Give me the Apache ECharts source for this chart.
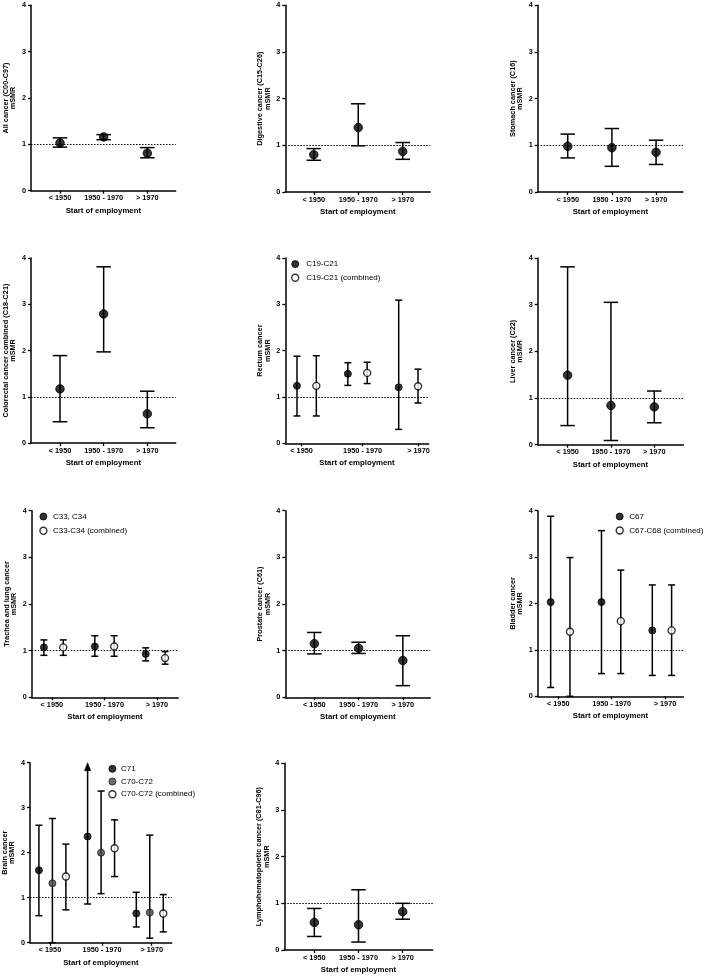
<!DOCTYPE html>
<html>
<head>
<meta charset="utf-8">
<script src="https://cdn.jsdelivr.net/npm/echarts@6/dist/echarts.min.js"></script>
<style>
html,body{margin:0;padding:0;background:#fff;}
#chart{width:708px;height:978px;}
</style>
</head>
<body>
<div id="chart"></div>
<script>
// ---------- DATA (mSMR estimate, lower CI, upper CI) ----------
const categories = ['< 1950', '1950 - 1970', '> 1970'];
const yTickValues = [0, 1, 2, 3, 4];

const allCancer   = [[1.03, 0.94, 1.14], [1.16, 1.10, 1.21], [0.81, 0.71, 0.93]];
const digestive   = [[0.80, 0.68, 0.93], [1.38, 0.99, 1.89], [0.87, 0.70, 1.06]];
const stomach     = [[0.98, 0.73, 1.24], [0.95, 0.55, 1.36], [0.85, 0.59, 1.11]];
const colorectal  = [[1.17, 0.46, 1.89], [2.79, 1.97, 3.81], [0.63, 0.33, 1.12]];
const rectumC19   = [[1.24, 0.59, 1.88], [1.50, 1.25, 1.74], [1.21, 0.30, 3.09]];
const rectumComb  = [[1.24, 0.59, 1.89], [1.52, 1.29, 1.75], [1.23, 0.87, 1.60]];
const liver       = [[1.49, 0.41, 3.81], [0.84, 0.09, 3.05], [0.81, 0.47, 1.15]];
const lungC33     = [[1.07, 0.90, 1.23], [1.09, 0.88, 1.32], [0.93, 0.78, 1.06]];
const lungComb    = [[1.07, 0.90, 1.23], [1.09, 0.88, 1.32], [0.84, 0.71, 0.98]];
const prostate    = [[1.15, 0.93, 1.39], [1.05, 0.94, 1.18], [0.79, 0.25, 1.32]];
const bladderC67  = [[2.03, 0.19, 3.88], [2.03, 0.49, 3.57], [1.42, 0.45, 2.40]];
const bladderComb = [[1.39, 0.00, 2.99], [1.62, 0.49, 2.72], [1.42, 0.45, 2.40]];
const brainC71    = [[1.61, 0.60, 2.61], [2.36, 0.86, 4.00], [0.65, 0.35, 1.12]];
const brainC70    = [[1.32, 0.00, 2.76], [2.00, 1.09, 3.37], [0.67, 0.10, 2.39]];
const brainComb   = [[1.47, 0.73, 2.19], [2.10, 1.47, 2.73], [0.65, 0.24, 1.07]];
const lympho      = [[0.59, 0.29, 0.89], [0.54, 0.17, 1.29], [0.82, 0.66, 1.00]];
// upper limit beyond axis (drawn as arrow)
const brainC71Truncated = [0, 1, 0];
const noTrunc = [0, 0, 0];

// ---------- LAYOUT / STYLE ----------
const FONT = '"Liberation Sans", Arial, sans-serif';
const STYLE = {
  filled: { color: '#000000', borderColor: '#000000', borderWidth: 1 },
  gray:   { color: '#474747', borderColor: '#1a1a1a', borderWidth: 1 },
  open:   { color: '#ffffff', borderColor: '#000000', borderWidth: 1.4 }
};

const panels = [
  { title: 'All cancer (C00-C97)', box: [31, 5.3, 144.7, 185.4], xr: [-0.664, 2.65],
    labels: [0, 1, 2], sub: [{ name: 'allC', data: allCancer, off: 0, st: 'filled' }] },
  { title: 'Digestive cancer (C15-C26)', box: [285.3, 5.3, 145, 186.7], xr: [-0.64, 2.62],
    labels: [0, 1, 2], sub: [{ name: 'dig', data: digestive, off: 0, st: 'filled' }] },
  { title: 'Stomach cancer (C16)', box: [537.7, 5.3, 145.3, 186.7], xr: [-0.68, 2.61],
    labels: [0, 1, 2], sub: [{ name: 'sto', data: stomach, off: 0, st: 'filled' }] },
  { title: 'Colorectal cancer combined (C18-C21)', box: [31, 258, 144.7, 185], xr: [-0.664, 2.65],
    labels: [0, 1, 2], sub: [{ name: 'col', data: colorectal, off: 0, st: 'filled' }] },
  { title: 'Rectum cancer', box: [285.3, 258, 143.4, 185.3], xr: [-0.42, 2.40],
    labels: [-0.1, 1.1, 2.2], multi: true,
    sub: [{ name: 'C19-C21', data: rectumC19, off: -0.19, st: 'filled' },
          { name: 'C19-C21 (combined)', data: rectumComb, off: 0.19, st: 'open' }],
    legend: { left: 291, top: 259.6, iw: 12, gap: 4.6 } },
  { title: 'Liver cancer (C22)', box: [537.7, 258, 145.6, 186.7], xr: [-0.69, 2.67],
    labels: [0, 1, 2], sub: [{ name: 'liv', data: liver, off: 0, st: 'filled' }] },
  { title: 'Trachea and lung cancer', box: [31.7, 510.7, 146.6, 186.6], xr: [-0.43, 2.45],
    labels: [-0.035, 1.0, 2.03], multi: true,
    sub: [{ name: 'C33, C34', data: lungC33, off: -0.19, st: 'filled' },
          { name: 'C33-C34 (combined)', data: lungComb, off: 0.19, st: 'open' }],
    legend: { left: 39.2, top: 512, iw: 9, gap: 5.3 } },
  { title: 'Prostate cancer (C61)', box: [285.3, 510.7, 145, 186.6], xr: [-0.656, 2.62],
    labels: [0, 1, 2], sub: [{ name: 'pro', data: prostate, off: 0, st: 'filled' }] },
  { title: 'Bladder cancer', box: [537.7, 510.7, 145.6, 185.6], xr: [-0.445, 2.42],
    labels: [-0.04, 1.01, 2.06], multi: true,
    sub: [{ name: 'C67', data: bladderC67, off: -0.19, st: 'filled' },
          { name: 'C67-C68 (combined)', data: bladderComb, off: 0.19, st: 'open' }],
    legend: { left: 615.5, top: 512, iw: 9, gap: 5 } },
  { title: 'Brain cancer', box: [30, 762.7, 141.7, 180], xr: [-0.46, 2.45],
    labels: [-0.05, 1.02, 2.04], multi: true,
    sub: [{ name: 'C71', data: brainC71, off: -0.277, st: 'filled', trunc: brainC71Truncated },
          { name: 'C70-C72', data: brainC70, off: 0, st: 'gray' },
          { name: 'C70-C72 (combined)', data: brainComb, off: 0.277, st: 'open' }],
    legend: { left: 108.2, top: 764.3, iw: 7, gap: 3.7 } },
  { title: 'Lymphohematopoietic cancer (C81-C96)', box: [284.3, 763.3, 148.4, 186.7], xr: [-0.68, 2.68],
    labels: [0, 1, 2], sub: [{ name: 'lym', data: lympho, off: 0, st: 'filled' }] }
];

function makeErrorRenderer(capW) {
  return function (params, api) {
    const x = api.value(0), lo = api.value(1), hi = api.value(2), tr = api.value(3);
    const top = api.coord([x, hi]);
    const bot = api.coord([x, lo]);
    const st = { stroke: '#000', lineWidth: 1.5, fill: null };
    const h = capW / 2;
    const ch = [
      { type: 'line', shape: { x1: top[0], y1: top[1] + (tr ? 6 : 0), x2: bot[0], y2: bot[1] }, style: st },
      { type: 'line', shape: { x1: bot[0] - h, y1: bot[1], x2: bot[0] + h, y2: bot[1] }, style: st }
    ];
    if (tr) {
      ch.push({ type: 'polygon', shape: { points: [[top[0], top[1]], [top[0] - 3.2, top[1] + 8], [top[0] + 3.2, top[1] + 8]] },
                style: { fill: '#000', stroke: '#000', lineWidth: 0.5 } });
    } else {
      ch.push({ type: 'line', shape: { x1: top[0] - h, y1: top[1], x2: top[0] + h, y2: top[1] }, style: st });
    }
    return { type: 'group', children: ch };
  };
}

const grid = [], xAxis = [], yAxis = [], series = [], legend = [];
const labelStyle = { color: '#000', fontFamily: FONT, fontWeight: 'bold', fontSize: 7.3 };

panels.forEach((p, i) => {
  const [l, t, w, h] = p.box;
  grid.push({ left: l, top: t, width: w, height: h, containLabel: false });
  const lbl = p.labels;
  xAxis.push({
    gridIndex: i, type: 'value', min: p.xr[0], max: p.xr[1],
    name: 'Start of employment', nameLocation: 'middle', nameGap: 16,
    nameTextStyle: { color: '#000', fontFamily: FONT, fontWeight: 'bold', fontSize: 7.8 },
    axisLine: { show: true, onZero: false, lineStyle: { color: '#000', width: 1.5 } },
    axisTick: { show: true, customValues: lbl, length: 3, inside: false, lineStyle: { color: '#000', width: 1.3 } },
    axisLabel: Object.assign({ show: true, customValues: lbl, margin: 4,
      formatter: function (v) {
        let best = 0, bd = 1e9;
        lbl.forEach((c, k) => { const d = Math.abs(c - v); if (d < bd) { bd = d; best = k; } });
        return categories[best];
      } }, labelStyle),
    splitLine: { show: false }
  });
  yAxis.push({
    gridIndex: i, type: 'value', min: 0, max: 4, interval: 1,
    name: p.title + '\nmSMR', nameLocation: 'middle', nameGap: 14, nameRotate: 90,
    nameTextStyle: { color: '#000', fontFamily: FONT, fontWeight: 'bold', fontSize: 7.3, lineHeight: 7.4, align: 'center' },
    axisLine: { show: true, onZero: false, lineStyle: { color: '#000', width: 1.5 } },
    axisTick: { show: true, length: 3, inside: false, lineStyle: { color: '#000', width: 1.3 } },
    axisLabel: Object.assign({ show: true, margin: 5, formatter: v => String(yTickValues[v] !== undefined ? yTickValues[v] : v) }, labelStyle),
    splitLine: { show: false }
  });
  const cap = p.multi ? 7 : 14.5;
  const sym = p.multi ? 7 : 8.5;
  p.sub.forEach((s, k) => {
    const tr = s.trunc || noTrunc;
    series.push({
      type: 'custom', name: s.name + '_err', xAxisIndex: i, yAxisIndex: i, silent: true, clip: false, z: 3,
      renderItem: makeErrorRenderer(cap),
      encode: { x: 0, y: 1 },
      data: s.data.map((d, g) => [g + s.off, d[1], d[2], tr[g]])
    });
    const sc = {
      type: 'scatter', name: s.name, xAxisIndex: i, yAxisIndex: i, z: 5,
      symbol: 'circle', symbolSize: sym, itemStyle: STYLE[s.st],
      data: s.data.map((d, g) => [g + s.off, d[0]])
    };
    if (k === 0) {
      sc.markLine = { silent: true, symbol: 'none', label: { show: false }, animation: false,
        lineStyle: { type: [1.5, 1.5], color: '#000', width: 1.1 }, data: [{ yAxis: 1 }] };
    }
    series.push(sc);
  });
  if (p.legend) {
    legend.push({
      orient: 'vertical', left: p.legend.left, top: p.legend.top, padding: 0,
      itemWidth: p.legend.iw, itemHeight: 7, itemGap: p.legend.gap, selectedMode: false,
      textStyle: { color: '#000', fontFamily: FONT, fontSize: 8, lineHeight: 9 },
      data: p.sub.map(s => ({ name: s.name, icon: 'circle', itemStyle: STYLE[s.st] }))
    });
  }
});

const chart = echarts.init(document.getElementById('chart'), null, { renderer: 'canvas' });
chart.setOption({
  animation: false,
  backgroundColor: '#ffffff',
  textStyle: { fontFamily: FONT },
  grid, xAxis, yAxis, series, legend,
  tooltip: { show: false }
});
</script>
</body>
</html>
